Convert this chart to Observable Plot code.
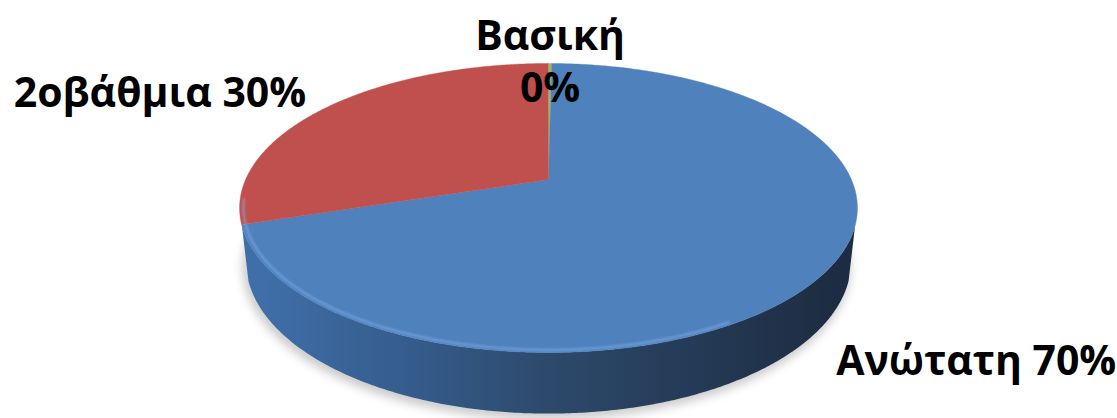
<!DOCTYPE html>
<html><head><meta charset="utf-8">
<script src="https://cdn.jsdelivr.net/npm/d3@7"></script>
<script src="https://cdn.jsdelivr.net/npm/@observablehq/plot@0.6"></script>
<style>html,body{margin:0;padding:0;background:#fff;overflow:hidden}</style>
</head><body><div id="chart"></div>
<script>
// ---- data ----
const categories = ["Βασική", "Ανώτατη", "2οβάθμια"];
const values = [0.2, 70, 30];
const topColors = ["#9bbb59", "#4f81bd", "#c0504d"];
const sideStops = [
  ["#80a04a", "#6a8a3c", "#56702f", "#3c4c22"],
  ["#3f6ea8", "#345b8a", "#2c4869", "#1d2c42"],
  ["#a8423f", "#8f3836", "#742d2b", "#4e1f1d"]
];

// ---- layout / projection ----
const W = 1117, H = 418;
const cam = {cx: 548, cy: 179, F: 1366, k: 4.51, tilt: 27.3 * Math.PI / 180, h: 0.2};
const sn = Math.sin(cam.tilt), cs = Math.cos(cam.tilt);
function proj(x, y, z) {
  const up = y * cs + z * sn, depth = cam.k - y * sn + z * cs;
  return [cam.cx + cam.F * x / depth, cam.cy - cam.F * up / depth];
}
const rim = (t, r = 1, y = 0) => proj(r * Math.sin(t), y, r * Math.cos(t));
const wallVisible = t => Math.cos(t) < -0.31;

const total = d3.sum(values);
let acc = 0;
const slices = categories.map((cat, i) => {
  const a0 = acc / total * 2 * Math.PI; acc += values[i];
  const a1 = acc / total * 2 * Math.PI;
  return {i, cat, value: values[i], pct: Math.round(values[i] / total * 100), a0, a1};
});

// top faces
const topRows = [];
for (const s of slices) {
  const n = Math.max(2, Math.ceil((s.a1 - s.a0) / (Math.PI / 360)));
  const [x0, y0] = proj(0, 0, 0);
  topRows.push({id: s.cat, x: x0, y: y0, fill: topColors[s.i]});
  for (let j = 0; j <= n; j++) {
    const t = s.a0 + (s.a1 - s.a0) * j / n;
    const [x, y] = rim(t);
    topRows.push({id: s.cat, x, y, fill: topColors[s.i]});
  }
}

// side walls: one polygon per slice over its visible arc
const sideRows = [];
const step = Math.PI / 360;
for (const s of slices) {
  const ts = [];
  for (let t = s.a0; t <= s.a1 + 1e-9; t += step) if (wallVisible(t)) ts.push(Math.min(t, s.a1));
  if (ts.length < 2) continue;
  const fill = `url(#side-${s.i})`;
  for (const t of ts) { const [x, y] = rim(t, 1, 0); sideRows.push({id: s.cat, x, y, fill}); }
  for (const t of ts.slice().reverse()) { const [x, y] = rim(t, 1, -cam.h); sideRows.push({id: s.cat, x, y, fill}); }
}

// shadow (base outline)
const shadowRows = [];
for (let j = 0; j <= 360; j++) {
  const [x, y] = rim(j * Math.PI / 180, 1.005, -cam.h);
  shadowRows.push({x: x - 2, y: y + 5});
}

// rim highlight on the front edge
const hiRows = [];
for (let d = 150; d <= 262; d++) {
  const [x, y] = rim(d * Math.PI / 180, 0.988, 0);
  hiRows.push({x, y});
}

// labels
const lab = {
  "Βασική": {pt: rim((slices[0].a0 + slices[0].a1) / 2), anchor: "middle", lineAnchor: "middle", dx: 0, dy: -4, multi: true},
  "Ανώτατη": {pt: rim((slices[1].a0 + slices[1].a1) / 2, 1, -cam.h), anchor: "start", lineAnchor: "bottom", dx: 18, dy: 44},
  "2οβάθμια": {pt: rim((slices[2].a0 + slices[2].a1) / 2), anchor: "end", lineAnchor: "bottom", dx: -23, dy: 1}
};
const textMarks = slices.map(s => {
  const o = lab[s.cat];
  return Plot.text([{x: o.pt[0], y: o.pt[1], t: o.multi ? `${s.cat}\n${s.pct}%` : `${s.cat} ${s.pct}%`}], {
    x: "x", y: "y", text: "t", textAnchor: o.anchor, lineAnchor: o.lineAnchor, lineHeight: 1.27,
    dx: o.dx, dy: o.dy, fontSize: 41, fontWeight: "bold", fill: "#000"
  });
});

const chart = Plot.plot({
  width: W, height: H, margin: 0,
  x: {domain: [0, W], range: [0, W], axis: null},
  y: {domain: [0, H], range: [0, H], axis: null},
  color: {type: "identity"},
  style: {fontFamily: "'Open Sans', sans-serif", background: "#fff", overflow: "visible"},
  marks: [
    Plot.line(shadowRows, {x: "x", y: "y", fill: "#000", fillOpacity: 0.2, stroke: "none", curve: "linear"}),
    Plot.line(sideRows, {x: "x", y: "y", z: "id", fill: "fill", stroke: "none", curve: "linear"}),
    Plot.line(topRows, {x: "x", y: "y", z: "id", fill: "fill", stroke: "fill", strokeWidth: 0.4, curve: "linear"}),
    Plot.line(hiRows, {x: "x", y: "y", stroke: "#8ab8f0", strokeWidth: 2.5, strokeOpacity: 0.5, curve: "linear"}),
    ...textMarks
  ]
});
// gradient paint servers for the shaded walls
const [xl] = rim(1.5 * Math.PI + 0.2), [xr] = rim(0.5 * Math.PI - 0.2);
const defs = d3.select(chart).insert("defs", ":first-child");
sideStops.forEach((stops, i) => {
  const g = defs.append("linearGradient").attr("id", `side-${i}`).attr("gradientUnits", "userSpaceOnUse")
    .attr("x1", xl).attr("x2", xr).attr("y1", 0).attr("y2", 0);
  [0, 0.27, 0.52, 1].forEach((o, j) => g.append("stop").attr("offset", o).attr("stop-color", stops[j]));
});
document.getElementById("chart").appendChild(chart);
const groups = chart.querySelectorAll('g[aria-label="line"]');
if (groups[0]) groups[0].style.filter = "blur(5px)";
if (groups[3]) groups[3].style.filter = "blur(1px)";
</script>
</body></html>
